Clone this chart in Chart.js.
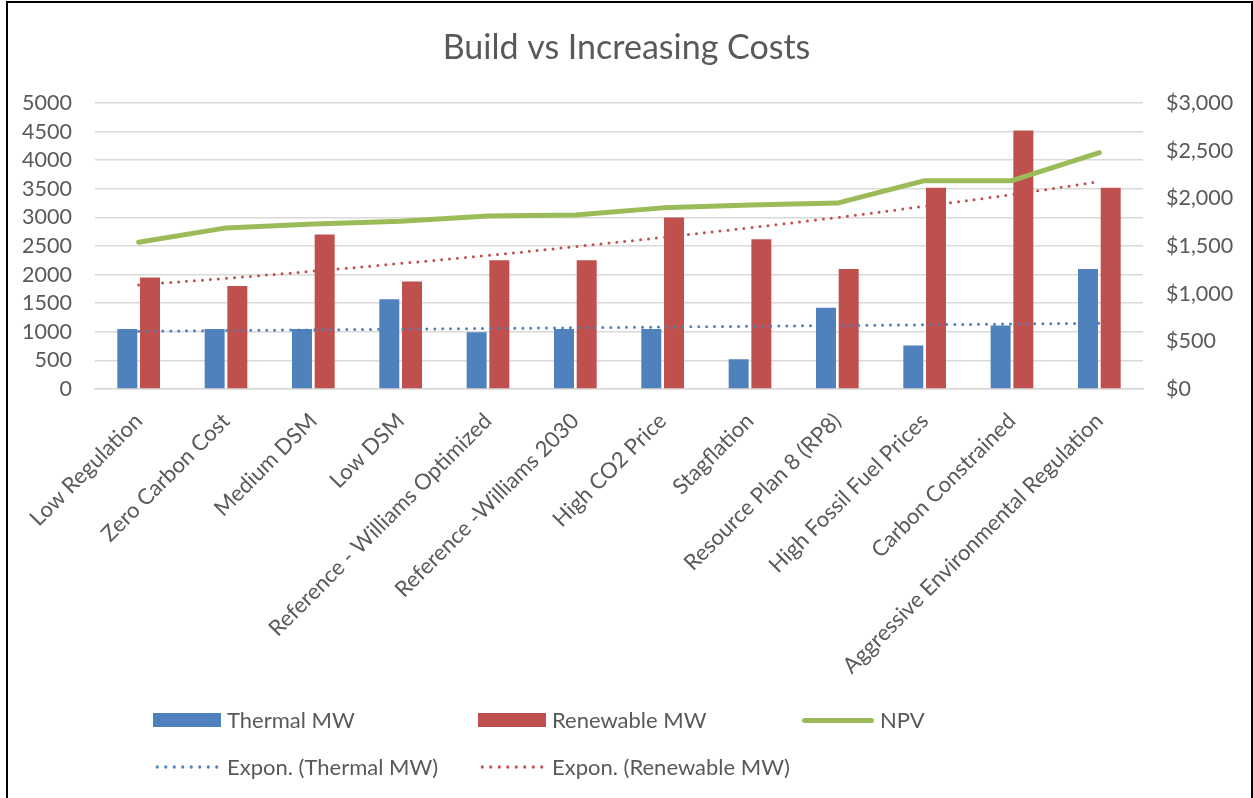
<!DOCTYPE html>
<html>
<head>
<meta charset="utf-8">
<script src="https://cdn.jsdelivr.net/npm/chart.js@4.4.1/dist/chart.umd.min.js"></script>
<style>
  html, body { margin: 0; padding: 0; background: #fff; }
  #wrap { position: relative; width: 1253px; height: 798px; overflow: hidden; }
  #c { position: absolute; left: 0; top: 0; }
  #frame { position: absolute; left: 6px; top: 1px; width: 1243px; height: 820px; border: 2px solid #000; pointer-events: none; }
  .lg { position: absolute; font-family: Lato, "Open Sans", sans-serif; font-size: 22px; color: #595959; white-space: nowrap; line-height: 24px; }
  .sym { position: absolute; }
</style>
</head>
<body>
<div id="wrap">
  <canvas id="c" width="1253" height="798"></canvas>
  <div id="legend"></div>
  <div id="frame"></div>
</div>
<script>
const categories = [
  "Low Regulation", "Zero Carbon Cost", "Medium DSM", "Low DSM",
  "Reference - Williams Optimized", "Reference -Williams 2030", "High CO2 Price",
  "Stagflation", "Resource Plan 8 (RP8)", "High Fossil Fuel Prices",
  "Carbon Constrained", "Aggressive Environmental Regulation"
];
const thermalMW   = [1050, 1050, 1050, 1570, 990, 1050, 1050, 520, 1420, 760, 1110, 2100];
const renewableMW = [1950, 1800, 2700, 1880, 2250, 2250, 3000, 2620, 2100, 3520, 4520, 3520];
const npv         = [1540, 1690, 1730, 1760, 1815, 1825, 1900, 1930, 1950, 2185, 2185, 2480];
const exponThermal   = [1010, 1022, 1034, 1046, 1058, 1070, 1083, 1096, 1109, 1122, 1136, 1150];
const exponRenewable = [1820, 1935, 2060, 2195, 2335, 2490, 2650, 2820, 3000, 3195, 3400, 3625];
const leftTicks  = [0, 5000, 500];
const rightTicks = [0, 3000, 500];

const BLUE = "#4F81BD", RED = "#C0504D", GREEN = "#9BBB59";
const TEXT = "#595959", GRID = "#D9D9D9";
const FONT = "Lato, 'Open Sans', sans-serif";

const chart = new Chart(document.getElementById("c"), {
  type: "bar",
  data: {
    labels: categories,
    datasets: [
      { type: "line", label: "NPV", data: npv, yAxisID: "y1", borderColor: GREEN, backgroundColor: GREEN,
        borderWidth: 5, pointRadius: 0, tension: 0, order: 1, borderCapStyle: "round", borderJoinStyle: "round" },
      { type: "line", label: "Expon. (Thermal MW)", data: exponThermal, yAxisID: "y", borderColor: BLUE,
        borderWidth: 3, borderDash: [0, 8], borderCapStyle: "round", pointRadius: 0, tension: 0.4, order: 2 },
      { type: "line", label: "Expon. (Renewable MW)", data: exponRenewable, yAxisID: "y", borderColor: RED,
        borderWidth: 3, borderDash: [0, 8], borderCapStyle: "round", pointRadius: 0, tension: 0.4, order: 2 },
      { type: "bar", label: "Thermal MW", data: thermalMW, yAxisID: "y", backgroundColor: BLUE,
        categoryPercentage: 0.52, barPercentage: 0.88, order: 10 },
      { type: "bar", label: "Renewable MW", data: renewableMW, yAxisID: "y", backgroundColor: RED,
        categoryPercentage: 0.52, barPercentage: 0.88, order: 10 }
    ]
  },
  options: {
    responsive: false,
    animation: false,
    layout: { padding: { left: 0, right: 0, top: 0, bottom: 0 } },
    plugins: {
      legend: { display: false },
      tooltip: { enabled: false },
      title: {
        display: true, text: "Build vs Increasing Costs", color: TEXT,
        font: { family: FONT, size: 34, weight: "normal" },
        padding: { top: 28, bottom: 34.2 }
      }
    },
    scales: {
      x: {
        grid: { display: false },
        border: { display: true, color: GRID, width: 1.5 },
        ticks: { color: TEXT, font: { family: FONT, size: 22 }, minRotation: 45, maxRotation: 45, autoSkip: false, padding: 11 },
        afterFit(s) { s.height = 409; }
      },
      y: {
        position: "left",
        min: leftTicks[0], max: leftTicks[1],
        ticks: { stepSize: leftTicks[2], autoSkip: false, color: TEXT, font: { family: FONT, size: 21.5 }, padding: 23,
          callback: v => String(v) },
        grid: { color: GRID, lineWidth: 1.5, drawTicks: false },
        border: { display: false },
        afterFit(s) { s.width = 95; }
      },
      y1: {
        position: "right",
        min: rightTicks[0], max: rightTicks[1],
        ticks: { stepSize: rightTicks[2], autoSkip: false, color: TEXT, font: { family: FONT, size: 21.5 }, padding: 23,
          callback: v => "$" + Number(v).toLocaleString("en-US") },
        grid: { drawOnChartArea: false, drawTicks: false },
        border: { display: false },
        afterFit(s) { s.width = 110; }
      }
    }
  }
});

// Legend built from the chart's datasets
const legendSpec = [
  { label: "Thermal MW", x: 153, y: 720, kind: "box" },
  { label: "Renewable MW", x: 478, y: 720, kind: "box" },
  { label: "NPV", x: 802, y: 720, kind: "line" },
  { label: "Expon. (Thermal MW)", x: 153, y: 767, kind: "dots" },
  { label: "Expon. (Renewable MW)", x: 478, y: 767, kind: "dots" }
];
const lg = document.getElementById("legend");
legendSpec.forEach(item => {
  const ds = chart.data.datasets.find(d => d.label === item.label);
  const color = ds.borderColor || ds.backgroundColor;
  const sym = document.createElement("div");
  sym.className = "sym";
  let w = 68;
  if (item.kind === "box") {
    Object.assign(sym.style, { left: item.x + "px", top: (item.y - 7) + "px", width: w + "px", height: "14px", background: ds.backgroundColor });
  } else if (item.kind === "line") {
    w = 72;
    Object.assign(sym.style, { left: item.x + "px", top: (item.y - 2.5) + "px", width: w + "px", height: "5px", background: color, borderRadius: "3px" });
  } else {
    Object.assign(sym.style, { left: item.x + "px", top: (item.y - 2) + "px", width: w + "px", height: "4px",
      backgroundImage: `radial-gradient(circle, ${color} 1.4px, transparent 1.9px)`, backgroundSize: "8.5px 4px", backgroundRepeat: "repeat-x" });
  }
  lg.appendChild(sym);
  const t = document.createElement("div");
  t.className = "lg";
  t.textContent = item.label;
  t.style.left = (item.x + w + 6) + "px";
  t.style.top = (item.y - 12) + "px";
  lg.appendChild(t);
});
</script>
</body>
</html>
